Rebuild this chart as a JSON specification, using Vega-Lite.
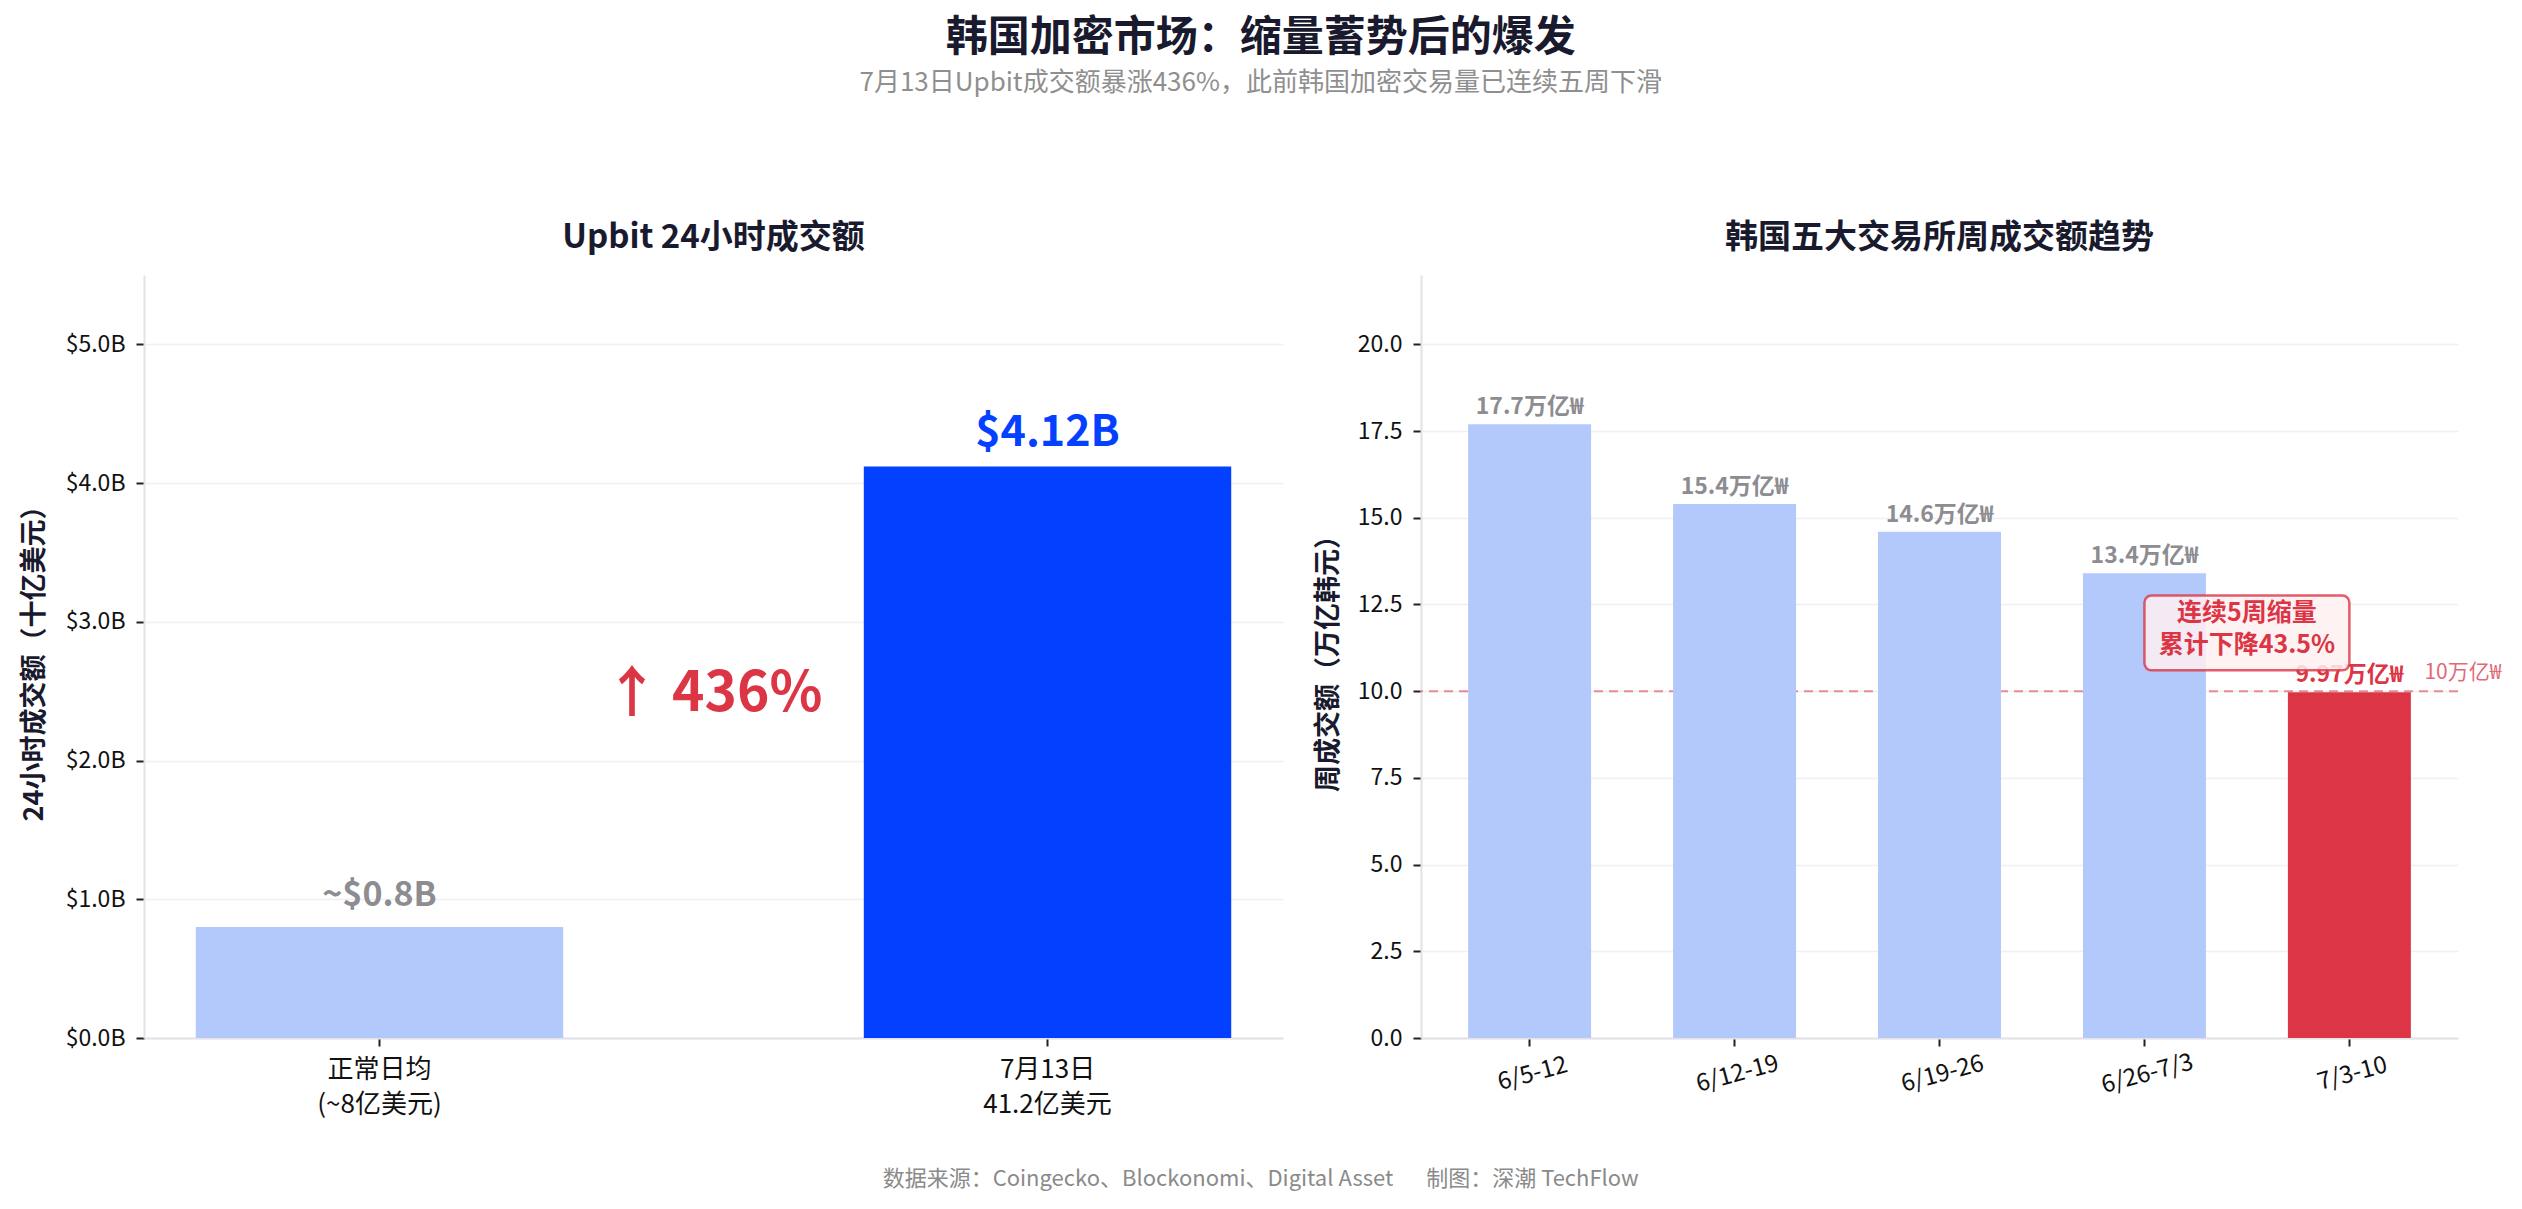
{
  "$schema": "https://vega.github.io/schema/vega-lite/v6.json",
  "background": "white",
  "padding": {"left": 20, "top": 17, "right": 0, "bottom": 10},
  "config": {
    "font": "Noto Sans CJK SC",
    "view": {"stroke": null},
    "axis": {
      "domainColor": "#e2e2e8",
      "domainWidth": 2,
      "tickColor": "#222222",
      "tickSize": 8,
      "tickWidth": 2,
      "labelColor": "#111111",
      "labelFontSize": 23,
      "labelPadding": 11,
      "titleColor": "#1a1a2e",
      "titleFontSize": 27,
      "titleFontWeight": "bold",
      "gridColor": "#f0f0f3",
      "gridWidth": 1.5
    }
  },
  "title": {
    "text": "数据来源：Coingecko、Blockonomi、Digital Asset　\u2002制图：深潮 TechFlow",
    "orient": "bottom",
    "anchor": "middle",
    "fontSize": 22,
    "fontWeight": "normal",
    "color": "#8a8a8a",
    "offset": 52
  },
  "vconcat": [
    {
      "title": {
        "text": "韩国加密市场：缩量蓄势后的爆发",
        "subtitle": "7月13日Upbit成交额暴涨436%，此前韩国加密交易量已连续五周下滑",
        "anchor": "middle",
        "fontSize": 42,
        "fontWeight": "bold",
        "color": "#1a1a2e",
        "subtitleFontSize": 26,
        "subtitleColor": "#8f8f8f",
        "subtitlePadding": 10,
        "offset": 125
      },
      "spacing": 31,
      "hconcat": [
        {
          "width": 1139,
          "height": 763,
          "title": {"text": "Upbit 24小时成交额", "fontSize": 33, "fontWeight": "bold", "color": "#1a1a2e", "anchor": "middle", "offset": 20},
          "data": {
            "values": [
              {"category": "正常日均\n(~8亿美元)", "volume": 0.8, "label": "~$0.8B"},
              {"category": "7月13日\n41.2亿美元", "volume": 4.12, "label": "$4.12B"}
            ]
          },
          "encoding": {
            "x": {
              "field": "category",
              "type": "nominal",
              "sort": null,
              "scale": {"paddingInner": 0.45, "paddingOuter": 0.0775},
              "axis": {
                "title": null,
                "labelAngle": 0,
                "labelExpr": "split(datum.label, '\\n')",
                "labelFontSize": 26,
                "labelLineHeight": 35,
                "labelPadding": 10,
                "grid": false
              }
            }
          },
          "layer": [
            {
              "mark": {"type": "bar"},
              "encoding": {
                "y": {
                  "field": "volume",
                  "type": "quantitative",
                  "scale": {"domain": [0, 5.5], "nice": false},
                  "axis": {
                    "title": "24小时成交额（十亿美元）",
                    "values": [0, 1, 2, 3, 4, 5],
                    "labelExpr": "'$' + format(datum.value, '.1f') + 'B'",
                    "minExtent": 83,
                    "maxExtent": 83,
                    "titlePadding": 13
                  }
                },
                "color": {
                  "field": "category",
                  "type": "nominal",
                  "sort": null,
                  "scale": {"range": ["#b3c9fb", "#0440ff"]},
                  "legend": null
                }
              }
            },
            {
              "transform": [{"filter": "datum.volume < 1"}],
              "mark": {"type": "text", "fontSize": 34, "fontWeight": "bold", "color": "#8c8c91", "baseline": "alphabetic", "dy": -21},
              "encoding": {
                "y": {"field": "volume", "type": "quantitative"},
                "text": {"field": "label"}
              }
            },
            {
              "transform": [{"filter": "datum.volume > 1"}],
              "mark": {"type": "text", "fontSize": 43, "fontWeight": "bold", "color": "#0440ff", "baseline": "alphabetic", "dy": -20},
              "encoding": {
                "y": {"field": "volume", "type": "quantitative"},
                "text": {"field": "label"}
              }
            },
            {
              "data": {"values": [{"note": "↑ 436%"}]},
              "mark": {"type": "text", "fontSize": 55, "fontWeight": "bold", "color": "#dc3545", "baseline": "middle", "align": "center"},
              "encoding": {
                "x": {"datum": "正常日均\n(~8亿美元)", "bandPosition": 1.409},
                "y": {"datum": 2.48},
                "text": {"field": "note"}
              }
            }
          ]
        },
        {
          "width": 1037,
          "height": 763,
          "title": {"text": "韩国五大交易所周成交额趋势", "fontSize": 33, "fontWeight": "bold", "color": "#1a1a2e", "anchor": "middle", "offset": 20},
          "data": {
            "values": [
              {"week": "6/5-12", "volume": 17.7, "label": "17.7万亿₩"},
              {"week": "6/12-19", "volume": 15.4, "label": "15.4万亿₩"},
              {"week": "6/19-26", "volume": 14.6, "label": "14.6万亿₩"},
              {"week": "6/26-7/3", "volume": 13.4, "label": "13.4万亿₩"},
              {"week": "7/3-10", "volume": 9.97, "label": "9.97万亿₩"}
            ]
          },
          "encoding": {
            "x": {
              "field": "week",
              "type": "nominal",
              "sort": null,
              "scale": {"paddingInner": 0.4, "paddingOuter": 0.23},
              "axis": {
                "title": null,
                "labelAngle": -15,
                "labelAlign": "center",
                "labelBaseline": "top",
                "labelFontSize": 24,
                "labelPadding": 16,
                "grid": false
              }
            }
          },
          "layer": [
            {
              "data": {"values": [{"threshold": 10, "label": "10万亿₩"}]},
              "mark": {"type": "rule", "color": "#dc3545", "opacity": 0.55, "strokeWidth": 2, "strokeDash": [9, 6]},
              "encoding": {
                "x": null,
                "y": {
                  "field": "threshold",
                  "type": "quantitative",
                  "scale": {"domain": [0, 22], "nice": false},
                  "axis": {
                    "title": "周成交额（万亿韩元）",
                    "values": [0, 2.5, 5, 7.5, 10, 12.5, 15, 17.5, 20],
                    "format": ".1f",
                    "minExtent": 68,
                    "maxExtent": 68,
                    "titlePadding": 11
                  }
                }
              }
            },
            {
              "mark": {"type": "bar"},
              "encoding": {
                "y": {"field": "volume", "type": "quantitative"},
                "color": {
                  "condition": {"test": "datum.week === '7/3-10'", "value": "#dc3545"},
                  "value": "#b3c9fb"
                }
              }
            },
            {
              "mark": {"type": "text", "fontSize": 23, "fontWeight": "bold", "baseline": "alphabetic", "dy": -10},
              "encoding": {
                "y": {"field": "volume", "type": "quantitative"},
                "text": {"field": "label"},
                "color": {
                  "condition": {"test": "datum.week === '7/3-10'", "value": "#dc3545"},
                  "value": "#8c8c91"
                }
              }
            },
            {
              "data": {"values": [{"threshold": 10, "label": "10万亿₩"}]},
              "mark": {"type": "text", "fontSize": 21, "color": "#e06a78", "align": "left", "baseline": "alphabetic", "dy": -12},
              "encoding": {
                "x": {"datum": "7/3-10", "bandPosition": 1.11},
                "y": {"field": "threshold", "type": "quantitative"},
                "text": {"field": "label"}
              }
            },
            {
              "data": {"values": [{"note": "连续5周缩量\n累计下降43.5%"}]},
              "mark": {"type": "rect", "cornerRadius": 7, "fill": "#fff0f1", "fillOpacity": 0.85, "stroke": "#dc3545", "strokeOpacity": 0.8, "strokeWidth": 2.5},
              "encoding": {
                "x": {"datum": "6/26-7/3", "bandPosition": 0.5},
                "x2": {"datum": "7/3-10", "bandPosition": 0.5},
                "y": {"datum": 12.76},
                "y2": {"datum": 10.6}
              }
            },
            {
              "data": {"values": [{"note": "连续5周缩量\n累计下降43.5%"}]},
              "mark": {"type": "text", "fontSize": 25, "fontWeight": "bold", "color": "#dc3545", "align": "center", "baseline": "middle", "lineBreak": "\n", "lineHeight": 32},
              "encoding": {
                "x": {"datum": "6/26-7/3", "bandPosition": 1.3333},
                "y": {"datum": 12.24},
                "text": {"field": "note"}
              }
            }
          ]
        }
      ]
    }
  ]
}
